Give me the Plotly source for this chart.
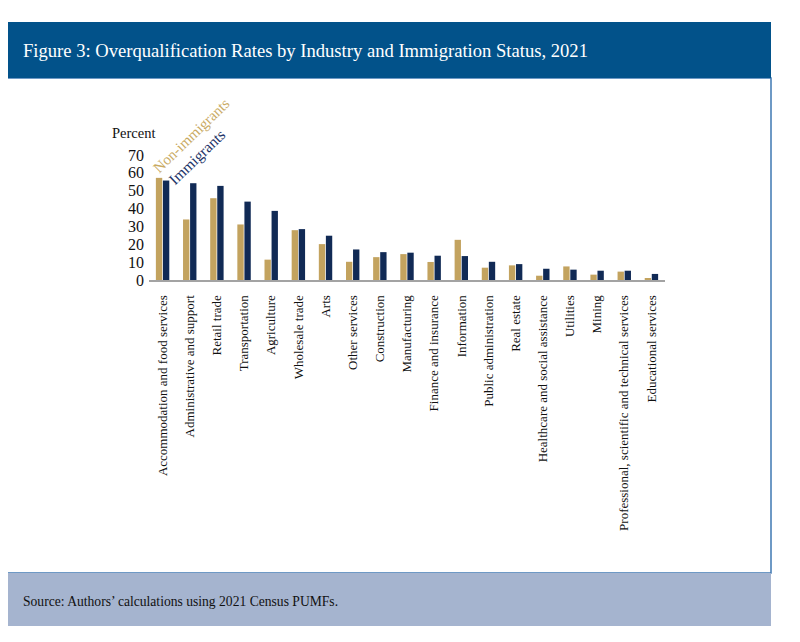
import plotly.graph_objects as go

categories = [
    "Accommodation and food services", "Administrative and support", "Retail trade",
    "Transportation", "Agriculture", "Wholesale trade", "Arts", "Other services",
    "Construction", "Manufacturing", "Finance and insurance", "Information",
    "Public administration", "Real estate", "Healthcare and social assistance",
    "Utilities", "Mining", "Professional, scientific and technical services",
    "Educational services",
]
non_immigrants = [57.2, 33.9, 45.8, 31.1, 11.4, 27.9, 20.1, 10.2, 12.8, 14.5,
                  10.1, 22.5, 6.9, 8.2, 2.4, 7.6, 3.0, 4.7, 0.7]
immigrants = [55.7, 54.2, 52.7, 43.9, 38.7, 28.5, 24.8, 17.1, 15.6, 15.3,
              13.6, 13.4, 10.2, 8.9, 6.3, 5.8, 5.2, 5.2, 3.4]
y_ticks = [0, 10, 20, 30, 40, 50, 60, 70]

GOLD = "#C3A35F"
NAVY = "#112A55"
FONT = "Liberation Serif"

OFF = 8  # page body margin
W, H = 800 - OFF, 642 - OFF
L = 149 - OFF
R = W - (665 - OFF)
T = 155 - OFF
B = H - (280 - OFF)
PW, PH = W - L - R, H - T - B


def px(x):
    return (x - OFF - L) / PW


def py(y):
    return (H - B - (y - OFF)) / PH


fig = go.Figure()
fig.add_trace(go.Bar(x=categories, y=non_immigrants, name="Non-immigrants",
                     marker=dict(color=GOLD, line=dict(width=0))))
fig.add_trace(go.Bar(x=categories, y=immigrants, name="Immigrants",
                     marker=dict(color=NAVY, line=dict(width=0))))

shapes = [
    dict(type="rect", xref="paper", yref="paper", x0=px(7), x1=px(771), y0=py(78), y1=py(573),
         fillcolor="white", line=dict(color="#3F78B2", width=1.5), layer="below"),
    dict(type="rect", xref="paper", yref="paper", x0=px(7), x1=px(771), y0=py(22), y1=py(78),
         fillcolor="#02528A", line=dict(width=0), layer="below"),
    dict(type="rect", xref="paper", yref="paper", x0=px(7), x1=px(771), y0=py(573), y1=py(626),
         fillcolor="#A5B4CF", line=dict(width=0), layer="below"),
]

annotations = [
    dict(text="Figure 3: Overqualification Rates by Industry and Immigration Status, 2021",
         xref="paper", yref="paper", x=px(21), y=py(51), xanchor="left", yanchor="middle",
         showarrow=False, font=dict(family=FONT, size=18.6, color="white")),
    dict(text="Source: Authors\u2019 calculations using 2021 Census PUMFs.",
         xref="paper", yref="paper", x=px(21), y=py(601), xanchor="left", yanchor="middle",
         showarrow=False, font=dict(family=FONT, size=13.6, color="#111111")),
    dict(text="Percent", xref="paper", yref="paper", x=px(133), y=py(133),
         xanchor="center", yanchor="middle", showarrow=False,
         font=dict(family=FONT, size=14.5, color="#111111")),
    dict(text="Non-immigrants", xref="paper", yref="paper", x=px(191), y=py(136),
         xanchor="center", yanchor="middle", showarrow=False, textangle=-44,
         font=dict(family=FONT, size=15, color="#C9AA62")),
    dict(text="Immigrants", xref="paper", yref="paper", x=px(196), y=py(157),
         xanchor="center", yanchor="middle", showarrow=False, textangle=-44,
         font=dict(family=FONT, size=15.5, color="#1E3468")),
]

fig.update_layout(
    width=W, height=H,
    margin=dict(l=L, r=R, t=T, b=B, pad=0),
    paper_bgcolor="white", plot_bgcolor="rgba(0,0,0,0)",
    barmode="group", bargap=0.48, bargroupgap=0.1,
    showlegend=False,
    font=dict(family=FONT, color="#111111"),
    shapes=shapes, annotations=annotations,
    xaxis=dict(showline=True, linecolor="#A3A3A3", linewidth=2, showgrid=False,
               ticks="", tickangle=-90, tickfont=dict(family=FONT, size=13, color="#111111"),
               ticklabelstandoff=8, zeroline=False),
    yaxis=dict(range=[0, 70], tickvals=y_ticks, showgrid=False, showline=False,
               zeroline=False, ticks="", tickfont=dict(family=FONT, size=16, color="#111111"),
               ticklabelstandoff=4),
)

fig.write_html("out.html")
